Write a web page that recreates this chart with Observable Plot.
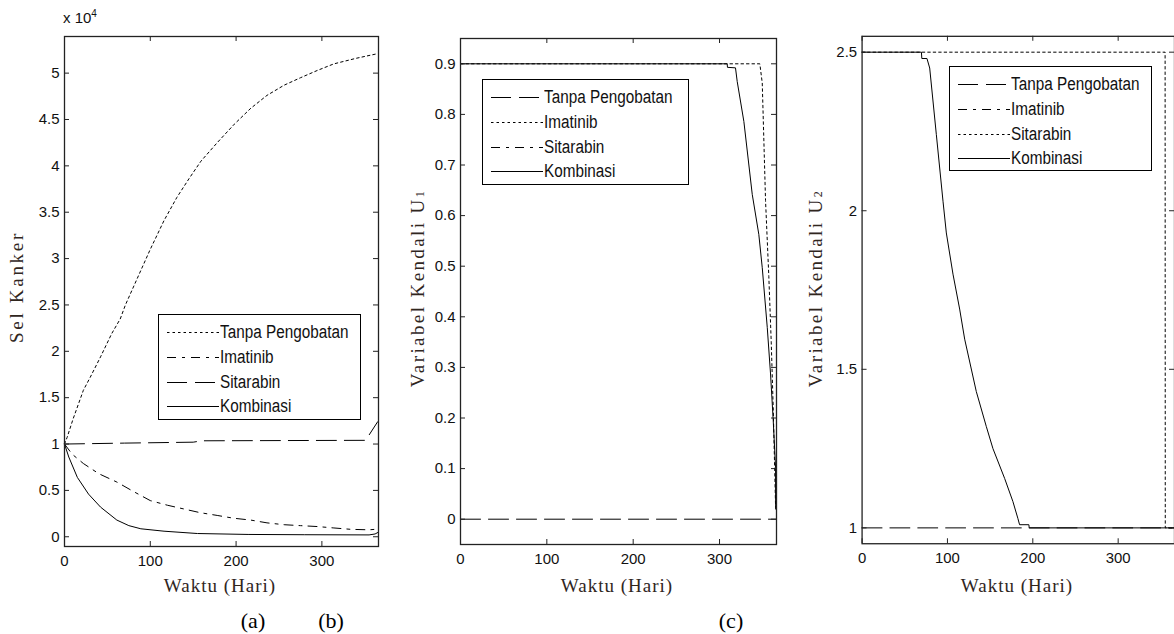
<!DOCTYPE html>
<html><head><meta charset="utf-8">
<script src="https://cdn.jsdelivr.net/npm/d3@7"></script>
<script src="https://cdn.jsdelivr.net/npm/@observablehq/plot@0.6"></script>
<style>
html,body{margin:0;padding:0;background:#fff;overflow:hidden;}
#wrap{position:relative;width:1174px;height:634px;overflow:hidden;background:#fff;}
.panel{position:absolute;top:0;}
.lab{position:absolute;font-family:"Liberation Serif","Times New Roman",serif;font-size:19px;color:#30261e;white-space:nowrap;transform:translate(-50%,-50%);}
.ylab{transform:translate(-50%,-50%) rotate(-90deg);}
.lab sub{font-size:12px;vertical-align:baseline;}
.tag{position:absolute;font-family:"Liberation Serif","Times New Roman",serif;font-size:22px;color:#000;transform:translate(-50%,-50%);}
.legend{position:absolute;border:1px solid #000;background:#fff;box-sizing:border-box;}
.legend .row{position:absolute;left:0;height:22px;}
.legend svg{position:absolute;left:8px;top:10px;}
.legend span{position:absolute;left:61px;top:0;line-height:22px;font-family:"Liberation Sans",Arial,sans-serif;font-size:15.3px;color:#111;white-space:nowrap;transform:scaleY(1.18);transform-origin:left center;}
.mult{position:absolute;left:63px;top:8px;font-family:"Liberation Sans",Arial,sans-serif;font-size:15px;color:#111;}
.mult sup{font-size:10px;}
</style>
</head><body>
<div id="wrap"></div>
<script>
// ---------- DATA ----------
const xTicks = [0, 100, 200, 300];
const yTicksA = [0, 0.5, 1, 1.5, 2, 2.5, 3, 3.5, 4, 4.5, 5];
const yTicksB = [0, 0.1, 0.2, 0.3, 0.4, 0.5, 0.6, 0.7, 0.8, 0.9];
const yTicksC = [1, 1.5, 2, 2.5];
const seriesNames = ["Tanpa Pengobatan", "Imatinib", "Sitarabin", "Kombinasi"];

// Panel (a)/(b): Sel Kanker (x 10^4)
const tanpaA_t = [0, 3, 10, 22, 30, 42, 55, 65, 71, 85, 100, 116, 131, 145, 159, 178, 198, 217, 236, 256, 275, 295, 314, 340, 365];
const tanpaA_v = [1.0, 1.07, 1.27, 1.58, 1.72, 1.94, 2.19, 2.35, 2.50, 2.79, 3.10, 3.41, 3.66, 3.86, 4.05, 4.25, 4.45, 4.62, 4.76, 4.87, 4.95, 5.03, 5.10, 5.16, 5.21];
const imatA_t = [0, 9, 22, 40, 61, 80, 100, 120, 139, 158, 178, 197, 217, 236, 256, 275, 295, 314, 334, 355, 362, 365];
const imatA_v = [1.0, 0.89, 0.79, 0.68, 0.59, 0.49, 0.39, 0.34, 0.30, 0.26, 0.23, 0.20, 0.18, 0.15, 0.13, 0.12, 0.11, 0.095, 0.08, 0.075, 0.08, 0.10];
const sitaA_t = [0, 70, 150, 160, 351, 365];
const sitaA_v = [1.0, 1.01, 1.02, 1.035, 1.04, 1.24];
const kombA_t = [0, 5, 15, 28, 42, 61, 75, 89, 116, 155, 214, 280, 355, 362, 365];
const kombA_v = [1.0, 0.86, 0.64, 0.46, 0.32, 0.18, 0.12, 0.086, 0.06, 0.035, 0.025, 0.022, 0.02, 0.03, 0.045];

// Panel (c) left: Variabel Kendali U1
const tanpaB_t = [0, 365];
const tanpaB_v = [0, 0];
const imatB_t = [0, 346.7, 349.5, 353.3, 357.1, 359.9, 362.2, 365];
const imatB_v = [0.9, 0.9, 0.862, 0.63, 0.48, 0.35, 0.22, 0.02];
const kombB_t = [0, 308.9, 309.2, 318.5, 320.5, 328.2, 337.9, 345.5, 349.5, 355.3, 359.1, 362.2, 364.9, 365];
const kombB_v = [0.9, 0.9, 0.893, 0.892, 0.865, 0.786, 0.642, 0.563, 0.497, 0.379, 0.287, 0.195, 0.103, 0.024];

// Panel (c) right: Variabel Kendali U2
const tanpaC_t = [0, 365];
const tanpaC_v = [1, 1];
const sitaC_t = [0, 355, 355.2, 365];
const sitaC_v = [2.5, 2.5, 1.0, 1.0];
const kombC_t = [0, 69.5, 70, 76, 79.2, 87.0, 94.8, 98.7, 106.5, 114.3, 120.2, 133.8, 145.5, 153.3, 167, 176.7, 182.5, 184.5, 195.4, 195.8, 365];
const kombC_v = [2.5, 2.5, 2.48, 2.48, 2.45, 2.24, 2.03, 1.93, 1.80, 1.69, 1.595, 1.43, 1.32, 1.25, 1.156, 1.083, 1.03, 1.01, 1.01, 1.0, 1.0];

// ---------- STYLES ----------
const DOT = "2.5,3", DASHDOT = "9,6,3,6", LONG = "20,8", SOLID = null;
const tickFont = '"Liberation Sans",Arial,sans-serif';

const pts = (t, v) => t.map((x, i) => ({t: x, v: v[i]}));
const wrap = document.getElementById("wrap");

function panel({left, width, mL, mR, mT, mB, yDomain, yTicks, yFmt, lines}) {
  const H = 634;
  const fw = width - mL - mR, fh = H - mT - mB;
  const marks = [
    ...lines.map(([t, v, dash]) => Plot.line(pts(t, v), {x: "t", y: "v", stroke: "#000", strokeWidth: 1, strokeDasharray: dash})),
    Plot.tickX(xTicks, {x: d => d, insetTop: fh - 5, stroke: "#222"}),
    Plot.tickX(xTicks, {x: d => d, insetBottom: fh - 5, stroke: "#222"}),
    Plot.tickY(yTicks, {y: d => d, insetRight: fw - 5, stroke: "#222"}),
    Plot.tickY(yTicks, {y: d => d, insetLeft: fw - 5, stroke: "#222"}),
    Plot.axisX(xTicks, {anchor: "bottom", tickSize: 0, tickPadding: 9, label: null, fontSize: 15, fill: "#111"}),
    Plot.axisY(yTicks, {anchor: "left", tickSize: 0, tickPadding: 5, label: null, fontSize: 15, fill: "#111", tickFormat: yFmt}),
    Plot.frame({stroke: "#222", strokeWidth: 1.3})
  ];
  const svg = Plot.plot({
    width, height: H,
    marginLeft: mL, marginRight: mR, marginTop: mT, marginBottom: mB,
    x: {domain: [0, 366], label: null},
    y: {domain: yDomain, label: null},
    style: {fontFamily: tickFont, fontSize: "15px", background: "transparent", color: "#111", overflow: "visible"},
    marks
  });
  const d = document.createElement("div");
  d.className = "panel";
  d.style.left = left + "px";
  d.appendChild(svg);
  wrap.appendChild(d);
}

panel({left: 0, width: 390, mL: 64, mR: 12, mT: 36, mB: 88, yDomain: [-0.105, 5.395], yTicks: yTicksA, yFmt: d => String(d),
  lines: [[tanpaA_t, tanpaA_v, DOT], [imatA_t, imatA_v, DASHDOT], [sitaA_t, sitaA_v, LONG], [kombA_t, kombA_v, SOLID]]});
panel({left: 390, width: 390, mL: 70, mR: 4, mT: 38, mB: 90, yDomain: [-0.05, 0.95], yTicks: yTicksB, yFmt: d => String(+d.toFixed(1)),
  lines: [[tanpaB_t, tanpaB_v, LONG], [imatB_t, imatB_v, DOT], [kombB_t, kombB_v, SOLID]]});
panel({left: 780, width: 396, mL: 82, mR: 0, mT: 36, mB: 88, yDomain: [0.95, 2.55], yTicks: yTicksC, yFmt: d => String(d),
  lines: [[tanpaC_t, tanpaC_v, LONG], [sitaC_t, sitaC_v, DOT], [kombC_t, kombC_v, SOLID]]});

// ---------- LEGENDS ----------
function legend(left, top, w, h, dashes) {
  const box = document.createElement("div");
  box.className = "legend";
  Object.assign(box.style, {left: left + "px", top: top + "px", width: w + "px", height: h + "px"});
  seriesNames.forEach((name, i) => {
    const row = document.createElement("div");
    row.className = "row";
    row.style.top = (6 + i * 24.8) + "px";
    row.style.width = w + "px";
    const ns = "http://www.w3.org/2000/svg";
    const s = document.createElementNS(ns, "svg");
    s.setAttribute("width", 52); s.setAttribute("height", 3);
    const l = document.createElementNS(ns, "line");
    l.setAttribute("x1", 0); l.setAttribute("x2", 52); l.setAttribute("y1", 1.5); l.setAttribute("y2", 1.5);
    l.setAttribute("stroke", "#000"); l.setAttribute("stroke-width", 1);
    if (dashes[i]) l.setAttribute("stroke-dasharray", dashes[i]);
    s.appendChild(l);
    const sp = document.createElement("span");
    sp.textContent = name;
    row.appendChild(s); row.appendChild(sp);
    box.appendChild(row);
  });
  wrap.appendChild(box);
}
legend(158, 314, 203, 106, [DOT, DASHDOT, LONG, SOLID]);
legend(482, 79, 207, 106, [LONG, DOT, DASHDOT, SOLID]);
legend(949, 66, 203, 105, [LONG, DASHDOT, DOT, SOLID]);

// ---------- TEXT LABELS ----------
function lab(html, x, y, cls, ls) {
  const d = document.createElement("div");
  d.className = cls;
  d.innerHTML = html;
  d.style.left = x + "px"; d.style.top = y + "px";
  if (ls != null) d.style.letterSpacing = ls + "px";
  wrap.appendChild(d);
}
lab("Waktu (Hari)", 220, 586, "lab", 1);
lab("Waktu (Hari)", 617, 586, "lab", 1);
lab("Waktu (Hari)", 1017, 586, "lab", 1);
lab("Sel Kanker", 17, 287, "lab ylab", 2.7);
lab("Variabel Kendali U<sub>1</sub>", 418, 288, "lab ylab", 2.4);
lab("Variabel Kendali U<sub>2</sub>", 816, 288, "lab ylab", 2.4);
lab("(a)", 253, 621, "tag");
lab("(b)", 331, 621, "tag");
lab("(c)", 731, 621, "tag");
const m = document.createElement("div");
m.className = "mult";
m.innerHTML = "x 10<sup>4</sup>";
wrap.appendChild(m);
</script>
</body></html>
